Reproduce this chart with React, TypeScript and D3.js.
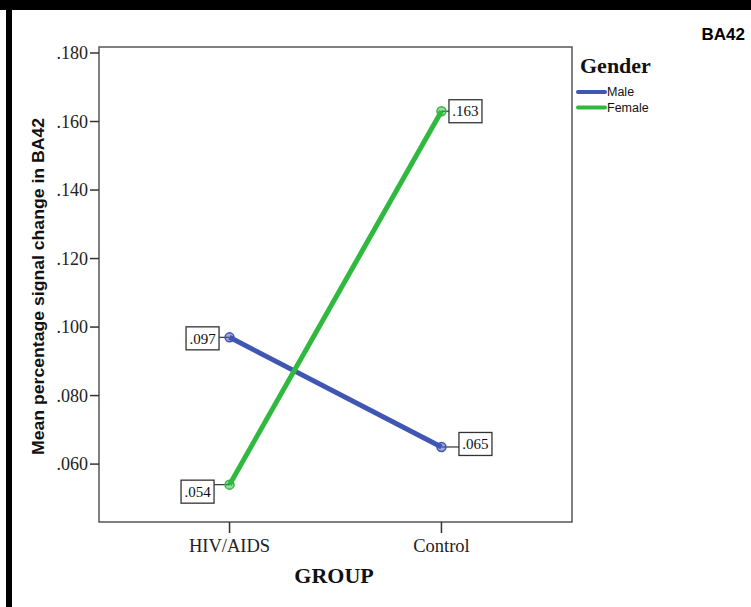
import React from "react";
import * as d3 from "d3";

const groups = ["HIV/AIDS", "Control"];
const genders = ["Male", "Female"];
const maleValues = [0.097, 0.065];
const femaleValues = [0.054, 0.163];
const yTicks = [0.06, 0.08, 0.1, 0.12, 0.14, 0.16, 0.18];
const colors = ["#3f56b4", "#2fba3f"];
// label box offsets (styling) per series per group: [dx, dy]
const labelOffsets = [
  [[-27, 1], [34, -3]],
  [[-32, 7], [24, 0]],
];

export default function App() {
  const W = 751, H = 607;
  const left = 99, right = 572, top = 47, bottom = 522;
  const x = d3.scalePoint<string>().domain(groups).range([left, right]).padding(0.616);
  const y = d3.scaleLinear().domain([0.0431, 0.18175]).range([bottom, top]);
  const series = [maleValues, femaleValues];
  const line = d3
    .line<number>()
    .x((_, i) => x(groups[i]) as number)
    .y((d) => y(d));
  const fmt = (v: number) => d3.format(".3f")(v).replace(/^0/, "");
  const bw = 33, bh = 23;
  return (
    <svg width={W} height={H} style={{ position: "absolute", left: 0, top: 0, background: "#fff" }}>
      <rect x={0} y={0} width={W} height={H} fill="#fff" />
      <rect x={0} y={0} width={W} height={10} fill="#000" />
      <rect x={6} y={0} width={6} height={H} fill="#000" />
      <text x={745} y={40} textAnchor="end" fontFamily="Liberation Sans, Arial, sans-serif" fontWeight="bold" fontSize={17}>BA42</text>
      <rect x={left} y={top} width={right - left} height={bottom - top} fill="#fff" stroke="#555" strokeWidth={1.5} />
      {yTicks.map((t) => (
        <g key={t}>
          <line x1={left - 9} x2={left} y1={y(t)} y2={y(t)} stroke="#333" strokeWidth={1.5} />
          <text x={88} y={y(t)} dy="0.35em" textAnchor="end" fontFamily="Liberation Serif, Times New Roman, serif" fontSize={18} fill="#222">{fmt(t)}</text>
        </g>
      ))}
      {groups.map((g) => (
        <g key={g}>
          <line x1={x(g)} x2={x(g)} y1={bottom} y2={bottom + 11} stroke="#333" strokeWidth={1.5} />
          <text x={x(g)} y={552} textAnchor="middle" fontFamily="Liberation Serif, Times New Roman, serif" fontSize={18.5} fill="#222">{g}</text>
        </g>
      ))}
      <text x={334} y={583} textAnchor="middle" fontFamily="Liberation Serif, Times New Roman, serif" fontWeight="bold" fontSize={22} fill="#111">GROUP</text>
      <text transform={`translate(44,${286.5}) rotate(-90)`} textAnchor="middle" fontFamily="Liberation Sans, Arial, sans-serif" fontWeight="bold" fontSize={17} textLength={337} lengthAdjust="spacingAndGlyphs" fill="#111">Mean percentage signal change in BA42</text>
      {series.map((vals, si) => (
        <g key={si}>
          <path d={line(vals) || ""} fill="none" stroke={colors[si]} strokeWidth={5} />
          {vals.map((v, i) => {
            const px = x(groups[i]) as number, py = y(v);
            const [dx, dy] = labelOffsets[si][i];
            const cx = px + dx, cy = py + dy;
            const edge = dx < 0 ? cx + bw / 2 : cx - bw / 2;
            return (
              <g key={i}>
                <line x1={px} x2={edge} y1={py} y2={py} stroke="#333" strokeWidth={1.2} />
                <circle cx={px} cy={py} r={4.5} fill={colors[si]} fillOpacity={0.5} stroke={colors[si]} strokeWidth={1.5} />
                <rect x={cx - bw / 2} y={cy - bh / 2} width={bw} height={bh} fill="#fff" stroke="#333" strokeWidth={1.3} />
                <text x={cx} y={cy} dy="0.35em" textAnchor="middle" fontFamily="Liberation Serif, Times New Roman, serif" fontSize={15} fill="#111">{fmt(v)}</text>
              </g>
            );
          })}
        </g>
      ))}
      <text x={580} y={73} fontFamily="Liberation Serif, Times New Roman, serif" fontWeight="bold" fontSize={22} fill="#111">Gender</text>
      {genders.map((g, i) => (
        <g key={g}>
          <line x1={578} x2={605} y1={92 + i * 15.5} y2={92 + i * 15.5} stroke={colors[i]} strokeWidth={4} strokeLinecap="round" />
          <text x={607} y={92 + i * 15.5} dy="0.35em" fontFamily="Liberation Sans, Arial, sans-serif" fontSize={12.5} fill="#111">{g}</text>
        </g>
      ))}
    </svg>
  );
}
